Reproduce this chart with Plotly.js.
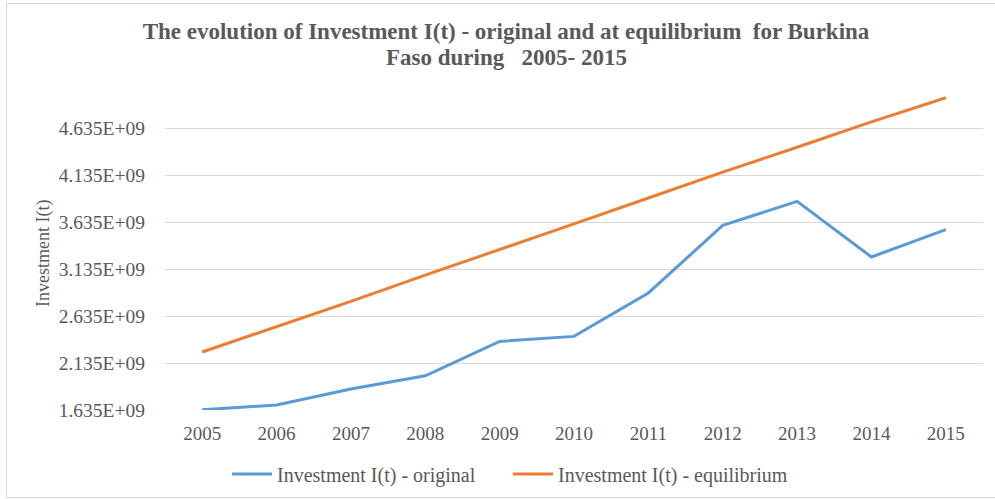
<!DOCTYPE html>
<html>
<head>
<meta charset="utf-8">
<script src="https://cdn.plot.ly/plotly-3.0.1.min.js"></script>
<style>
html,body{margin:0;padding:0;background:#fff;overflow:hidden;}
#wrap{position:relative;width:995px;height:499px;overflow:hidden;}
#chart{width:995px;height:499px;}
#frame{position:absolute;left:6px;top:3px;width:1000px;height:495px;border:1px solid #d9d9d9;pointer-events:none;box-sizing:border-box;}
</style>
</head>
<body>
<div id="wrap"><div id="chart"></div><div id="frame"></div></div>
<script>
const years = ['2005','2006','2007','2008','2009','2010','2011','2012','2013','2014','2015'];
const original = [1.637e9, 1.688e9, 1.858e9, 1.999e9, 2.365e9, 2.418e9, 2.880e9, 3.599e9, 3.854e9, 3.263e9, 3.553e9];
const equilibrium = [2.252e9, 2.520e9, 2.790e9, 3.070e9, 3.340e9, 3.615e9, 3.890e9, 4.165e9, 4.430e9, 4.700e9, 4.957e9];
const yTickVals = [1.635e9, 2.135e9, 2.635e9, 3.135e9, 3.635e9, 4.135e9, 4.635e9];
const yTickText = ['1.635E+09','2.135E+09','2.635E+09','3.135E+09','3.635E+09','4.135E+09','4.635E+09'];
const seriesNames = ['Investment I(t) - original', 'Investment I(t) - equilibrium'];
const titleLines = ['The evolution of Investment I(t) - original and at equilibrium  for Burkina', 'Faso during   2005- 2015'];
const yTitle = 'Investment I(t)';

const serif = '"Liberation Serif", "Times New Roman", serif';
const grey = '#595959';

const traces = [
  {x: years, y: original, name: seriesNames[0], type: 'scatter', mode: 'lines',
   line: {color: '#5b9bd5', width: 3}},
  {x: years, y: equilibrium, name: seriesNames[1], type: 'scatter', mode: 'lines',
   line: {color: '#ed7d31', width: 3}}
];

const layout = {
  width: 995, height: 499,
  margin: {l: 165, r: 12, t: 81, b: 89},
  paper_bgcolor: '#fff', plot_bgcolor: '#fff',
  font: {family: serif, color: grey},
  title: {
    text: '<b>' + titleLines[0] + '</b>',
    font: {family: serif, size: 23, color: grey},
    x: 506/995, xref: 'container', xanchor: 'center',
    y: 1 - 31/499, yref: 'container', yanchor: 'middle'
  },
  annotations: [{
    text: '<b>' + titleLines[1] + '</b>',
    font: {family: serif, size: 23, color: grey},
    xref: 'paper', yref: 'paper',
    x: (506 - 165) / 818, y: (410 - 57) / 329,
    xanchor: 'center', yanchor: 'middle', showarrow: false
  }, {
    text: yTitle, textangle: -90,
    font: {family: serif, size: 18, color: grey},
    xref: 'paper', yref: 'paper',
    x: (43 - 165) / 818, y: (410 - 254) / 329,
    xanchor: 'center', yanchor: 'middle', showarrow: false
  }],
  xaxis: {
    type: 'category', range: [-0.5, 10.5],
    showgrid: false, zeroline: false, showline: false, ticks: '',
    tickfont: {family: serif, size: 19, color: grey},
    ticklabelstandoff: 10
  },
  yaxis: {
    range: [1.635e9, 5.135e9],
    tickvals: yTickVals, ticktext: yTickText,
    showgrid: true, gridcolor: '#d9d9d9', gridwidth: 1,
    zeroline: false, showline: false, ticks: '',
    tickfont: {family: serif, size: 19.5, color: grey},
    ticklabelstandoff: 19
  },
  showlegend: true,
  legend: {
    orientation: 'h', xref: 'container', yref: 'container',
    x: 508/995, xanchor: 'center', y: 1 - 474/499, yanchor: 'middle',
    font: {family: serif, size: 20, color: grey},
    itemwidth: 40, tracegroupgap: 0, entrywidth: 226
  }
};

Plotly.newPlot('chart', traces, layout, {displayModeBar: false, staticPlot: true});
</script>
</body>
</html>
